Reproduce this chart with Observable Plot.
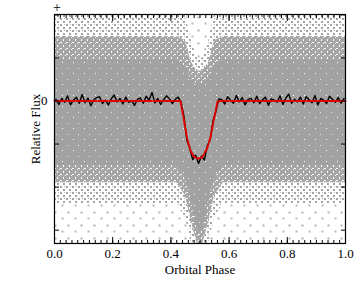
<!DOCTYPE html>
<html>
<head>
<meta charset="utf-8">
<script src="https://cdn.jsdelivr.net/npm/d3@7"></script>
<script src="https://cdn.jsdelivr.net/npm/@observablehq/plot@0.6"></script>
<style>
  body { margin: 0; background: #fff; }
  #chart { position: relative; width: 360px; height: 288px; }
  #plus { position: absolute; left: 53px; top: 1px; font-size: 14px; line-height: 14px; color: #000;
          font-family: 'Liberation Serif'; }
</style>
</head>
<body>
<svg width="0" height="0" style="position:absolute">
  <defs>
    <pattern id="dense" width="11" height="11" patternUnits="userSpaceOnUse">
      <rect width="11" height="11" fill="#a2a2a2"/>
      <rect x="1" y="2" width="1" height="1" fill="#e6e6e6"/>
      <rect x="7" y="7" width="1" height="1" fill="#ffffff"/>
    </pattern>
    <pattern id="medium" width="6" height="6" patternUnits="userSpaceOnUse">
      <rect width="6" height="6" fill="#a6a6a6"/>
      <rect x="0" y="0" width="2" height="1" fill="#fff"/>
      <rect x="3" y="3" width="1" height="2" fill="#fff"/>
      <rect x="5" y="1" width="1" height="1" fill="#f2f2f2"/>
    </pattern>
    <pattern id="light" width="6" height="6" patternUnits="userSpaceOnUse">
      <rect width="6" height="6" fill="#fff"/>
      <rect x="0" y="0" width="2" height="2" fill="#a4a4a4"/>
      <rect x="3" y="3" width="2" height="2" fill="#a4a4a4"/>
      <rect x="4" y="0" width="1" height="1" fill="#b0b0b0"/>
    </pattern>
    <pattern id="sparse" width="13" height="13" patternUnits="userSpaceOnUse">
      <rect width="13" height="13" fill="#fff"/>
      <rect x="2" y="3" width="2" height="2" fill="#b0b0b0"/>
      <rect x="9" y="9" width="2" height="2" fill="#b8b8b8"/>
    </pattern>
  </defs>
</svg>
<div id="chart"><div id="plus">+</div></div>
<script>
// Binned light curve (black), phase bin centres and flux (tick step = 10 units)
const binPhase = d3.range(100).map(i => +(0.005 + i * 0.01).toFixed(3));
const binFlux = [
  0.4,-0.8,0.6,-0.3,1.2,-0.9,0.2,0.9,-0.5,1.5,
  -0.4,0.7,-1.1,0.3,0.8,1.0,-0.6,0.2,-0.9,0.5,
  1.4,-0.2,0.6,-0.7,0.9,-0.3,0.1,-1.0,0.4,0.7,
  -0.5,1.1,0.2,2.0,-0.4,0.6,-0.8,0.3,1.2,0.5,
  -0.6,0.4,0.9,-0.3,
  -3.6,-9.2,-11.0,-13.6,-12.6,-14.5,-12.8,-13.7,-10.4,-9.0,-4.5,-2.3,0.5,
  0.3,-0.7,1.0,0.2,-0.5,1.3,-0.2,0.8,-0.9,0.4,
  0.6,-0.4,1.1,-0.6,0.3,0.9,-1.0,0.5,0.2,-0.3,
  1.2,-0.8,0.7,1.6,-0.5,0.4,-0.2,0.9,-0.7,1.0,
  0.3,-0.4,1.3,-0.9,0.6,0.2,-0.6,1.1,0.4,-0.3,
  0.8,-0.5,0.6
];

// Transit model (red dashed)
const modelPhase = [0, 0.433, 0.444, 0.456, 0.467, 0.479, 0.493, 0.507, 0.524, 0.536, 0.547, 0.561, 1];
const modelFlux  = [0, 0, -4.1, -8.8, -11.5, -12.9, -13.4, -13.1, -11.1, -8.4, -4.5, 0, 0];

// Unbinned point cloud, summarised as density bands (grey), top to bottom
const cloudPhase   = [0, 0.42, 0.45, 0.47, 0.49, 0.51, 0.53, 0.55, 0.58, 1];
const lightTop     = [20.1, 20.1, 20.1, 14, 10, 10, 14, 20.1, 20.1, 20.1];
const mediumTop    = [15, 15, 14, 9, 7, 7, 9, 14, 15, 15];
const denseTop     = [9.5, 9.5, 8, 5, 4, 4, 5, 8, 9.5, 9.5];
const denseBottom  = [-15, -15, -18, -23, -30, -30, -23, -18, -15, -15];
const mediumBottom = [-19, -19, -22, -28, -33.1, -33.1, -28, -22, -19, -19];
const lightBottom  = [-24, -24, -27, -33.1, -33.1, -33.1, -33.1, -27, -24, -24];

const xMajor = [0, 0.2, 0.4, 0.6, 0.8, 1.0];
const xMinor = d3.range(0, 51).map(i => +(i * 0.02).toFixed(2));
const yTicks = [-30, -20, -10, 0, 10, 20];

const bins = binPhase.map((p, i) => ({phase: p, flux: binFlux[i]}));
const model = modelPhase.map((p, i) => ({phase: p, flux: modelFlux[i]}));
const cloud = cloudPhase.map((p, i) => ({
  phase: p, lt: lightTop[i], mt: mediumTop[i], dt: denseTop[i],
  db: denseBottom[i], mb: mediumBottom[i], lb: lightBottom[i]
}));

const plot = Plot.plot({
  width: 360,
  height: 288,
  marginLeft: 54,
  marginRight: 15,
  marginTop: 14,
  marginBottom: 45,
  style: {fontFamily: "Liberation Serif", fontSize: "13px", background: "transparent"},
  x: {domain: [0, 1]},
  y: {domain: [-33.1, 20.1]},
  marks: [
    Plot.frame({fill: "url(#sparse)", stroke: "none"}),
    Plot.areaY(cloud, {x: "phase", y1: "lb", y2: "lt", fill: "url(#light)"}),
    Plot.areaY(cloud, {x: "phase", y1: "mb", y2: "mt", fill: "url(#medium)"}),
    Plot.areaY(cloud, {x: "phase", y1: "db", y2: "dt", fill: "url(#dense)"}),
    Plot.line(bins, {x: "phase", y: "flux", stroke: "black", strokeWidth: 1.4}),
    Plot.line(model, {x: "phase", y: "flux", stroke: "#e00000", strokeWidth: 2, strokeDasharray: "9,2"}),
    Plot.axisX(xMajor, {anchor: "bottom", tickSize: -6, tickPadding: 11, tickFormat: d3.format(".1f"),
      label: "Orbital Phase", labelAnchor: "center", labelOffset: 30, labelArrow: "none"}),
    Plot.axisX(xMinor, {anchor: "bottom", tickSize: -3, fill: "none", label: null}),
    Plot.axisX(xMajor, {anchor: "top", tickSize: -6, fill: "none", label: null}),
    Plot.axisX(xMinor, {anchor: "top", tickSize: -3, fill: "none", label: null}),
    Plot.axisY(yTicks, {anchor: "left", tickSize: -5, tickPadding: 12,
      tickFormat: d => d === 0 ? "0" : "",
      label: "Relative Flux", labelAnchor: "center", labelOffset: 24, labelArrow: "none"}),
    Plot.axisY(yTicks, {anchor: "right", tickSize: -5, fill: "none", label: null}),
    Plot.frame({stroke: "black", strokeWidth: 1.2})
  ]
});
document.getElementById("chart").appendChild(plot);
</script>
</body>
</html>
